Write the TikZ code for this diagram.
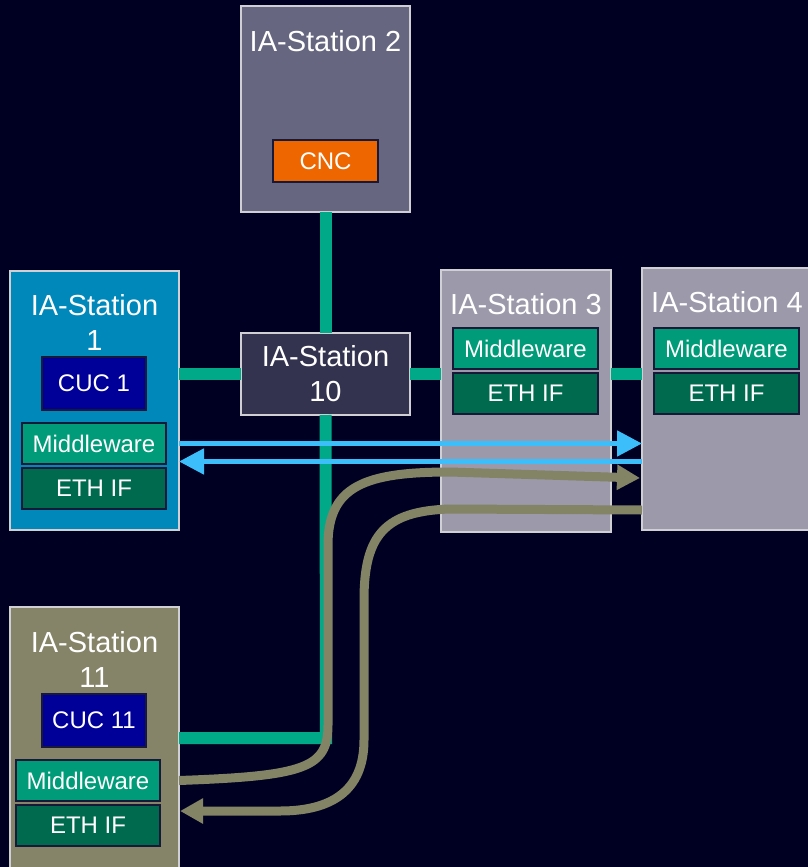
\documentclass[tikz,border=0pt]{standalone}
\usepackage{fontspec}
\setmainfont{Liberation Sans}
\usetikzlibrary{positioning, calc, arrows.meta}

\definecolor{bg}{RGB}{0,0,34}
\definecolor{stationedge}{RGB}{208,208,212}
\definecolor{partedge}{RGB}{24,24,56}
\definecolor{fillone}{RGB}{0,136,187}
\definecolor{filltwo}{RGB}{102,102,128}
\definecolor{fillten}{RGB}{51,51,80}
\definecolor{fillgrey}{RGB}{155,153,170}
\definecolor{fillkhaki}{RGB}{133,132,104}
\definecolor{cncorange}{RGB}{238,102,0}
\definecolor{cucblue}{RGB}{0,0,153}
\definecolor{mwgreen}{RGB}{0,155,120}
\definecolor{ethgreen}{RGB}{0,106,78}
\definecolor{linkgreen}{RGB}{0,170,136}
\definecolor{msgblue}{RGB}{60,190,250}
\definecolor{flowkhaki}{RGB}{131,131,101}

\begin{document}
\begin{tikzpicture}[
  x=1pt, y=-1pt,
  station/.style = {draw=stationedge, line width=2.5pt, anchor=north west,
                    inner sep=0pt, outer sep=0pt},
  title/.style   = {text=white, font=\fontsize{29}{35}\selectfont,
                    align=center, inner sep=0pt},
  part/.style    = {draw=partedge, line width=1.5pt, text=white,
                    font=\fontsize{24}{28}\selectfont, inner sep=0pt,
                    outer sep=0pt, anchor=north west},
  wide/.style    = {part, minimum width=144pt, minimum height=41pt},
  link/.style    = {draw=linkgreen, line width=12pt},
  msg/.style     = {draw=msgblue, line width=5pt,
                    -{Triangle[length=25pt,width=25pt]}},
  flow/.style    = {draw=flowkhaki, line width=9pt,
                    -{Triangle[length=23pt,width=24pt]}},
]

% background and page size
\fill[bg] (0,0) rectangle (808,867);
\useasboundingbox (0,0) rectangle (808,867);
\clip (0,0) rectangle (808,867);

% =============================================================
% Stations
% =============================================================
\node[station, fill=filltwo, minimum width=169pt, minimum height=206pt]
  (st2) at (241,6) {};
\node[station, fill=fillone, minimum width=169pt, minimum height=259pt]
  (st1) at (10,271) {};
\node[station, fill=fillten, minimum width=169pt, minimum height=82pt,
      title] (st10) at (241,333) {IA-Station\\10};
\node[station, fill=fillgrey, minimum width=170pt, minimum height=262pt]
  (st3) at (441,270) {};
\node[station, fill=fillgrey, minimum width=180pt, minimum height=262pt]
  (st4) at (642,268) {};
\node[station, fill=fillkhaki, minimum width=169pt, minimum height=280pt]
  (st11) at (10,607) {};

% --- titles ---
\node[title] (t2)  at ($(st2.north)+(0,35)$)  {IA-Station 2};
\node[title] (t1)  at ($(st1.north)+(0,51)$)  {IA-Station\\1};
\node[title] (t3)  at ($(st3.north)+(0,34)$)  {IA-Station 3};
\node[title] (t4)  at ($(st4.north west)+(85,34)$) {IA-Station 4};
\node[title] (t11) at ($(st11.north)+(0,52)$) {IA-Station\\11};

% --- parts inside the stations ---
\node[part, fill=cncorange, minimum width=105pt, minimum height=42pt]
  (cnc) at (273,140) {CNC};

\node[part, fill=cucblue, minimum width=104pt, minimum height=53pt]
  (cuc1) at (42,357) {CUC 1};
\node[wide, fill=mwgreen] (mw1) at (22,423) {Middleware};
\node[wide, fill=ethgreen, below=4pt of mw1.south west, anchor=north west]
  (eth1) {ETH IF};

\node[wide, fill=mwgreen, minimum width=145pt] (mw3) at (453,328) {Middleware};
\node[wide, fill=ethgreen, minimum width=145pt,
      below=4pt of mw3.south west, anchor=north west] (eth3) {ETH IF};

\node[wide, fill=mwgreen, minimum width=145pt] (mw4) at (654,328) {Middleware};
\node[wide, fill=ethgreen, minimum width=145pt,
      below=4pt of mw4.south west, anchor=north west] (eth4) {ETH IF};

\node[part, fill=cucblue, minimum width=104pt, minimum height=53pt]
  (cuc11) at (42,694) {CUC 11};
\node[wide, fill=mwgreen] (mw11) at (16,760) {Middleware};
\node[wide, fill=ethgreen, below=4pt of mw11.south west, anchor=north west]
  (eth11) {ETH IF};

% =============================================================
% Network links
% =============================================================
\coordinate (bend) at (326,738);
\draw[link] (st2.south) -- (st10.north);
\draw[link] (st10.west -| st1.east) -- (st10.west);
\draw[link] (st10.east) -- (st10.east -| st3.west);
\draw[link] (st10.east -| st3.east) -- (st10.east -| st4.west);
\draw[link] (st10.south) -- (bend) -- (bend -| st11.east);

% =============================================================
% Messages 1 <-> 4
% =============================================================
\draw[msg] (mw1.east -| st1.east) -- (mw1.east -| st4.west);
\draw[msg] ($(mw1.east -| st4.west)+(0,18)$) -- ($(mw1.east -| st1.east)+(0,18)$);

% =============================================================
% Flows 11 <-> 4
% =============================================================
\coordinate (f1end)   at (640,478);
\coordinate (f2start) at (642,510);
\coordinate (f2end)   at (180,811);

\draw[flow] (mw11.east -| st11.east)
  .. controls (305,776) and (328,768) .. (328,725)
  -- (328,545)
  .. controls (328,486) and (365,472) .. (450,472)
  -- (f1end);
\draw[flow] (f2start) -- (450,509)
  .. controls (385,511) and (364,535) .. (364,600)
  -- (364,740)
  .. controls (364,792) and (330,811) .. (280,811)
  -- (f2end);

\end{tikzpicture}
\end{document}
